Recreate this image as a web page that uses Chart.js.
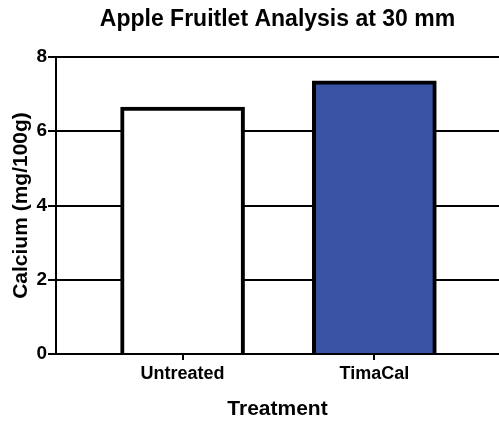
<!DOCTYPE html>
<html>
<head>
<meta charset="utf-8">
<script src="https://cdn.jsdelivr.net/npm/chart.js@4"></script>
<style>
  html, body { margin: 0; padding: 0; background: #fff; }
  #wrap { width: 499px; height: 423px; }
</style>
</head>
<body>
<div id="wrap"><canvas id="chart"></canvas></div>
<script>
const treatments = ["Untreated", "TimaCal"];
const calcium = [6.65, 7.36];
const barColors = ["#ffffff", "#3a53a4"];

Chart.defaults.font.family = "'Liberation Sans', Arial, Helvetica, sans-serif";
Chart.defaults.color = "#000";

const ctx = document.getElementById("chart");

new Chart(ctx, {
  type: "bar",
  data: {
    datasets: [
      {
        data: calcium.map((v, i) => ({ x: i + 1, y: v })),
        backgroundColor: barColors,
        borderColor: "#000",
        borderWidth: 4,
        barThickness: 124,
      },
    ],
  },
  options: {
    responsive: true,
    maintainAspectRatio: false,
    animation: false,
    layout: { padding: 0 },
    plugins: {
      legend: { display: false },
      tooltip: { enabled: false },
      title: {
        display: true,
        fullSize: false,
        text: "Apple Fruitlet Analysis at 30 mm",
        font: { size: 23, weight: "bold" },
        color: "#000",
        padding: { top: 6, bottom: 23.4 },
      },
    },
    scales: {
      x: {
        type: "linear",
        offset: false,
        min: 0.34,
        max: 2.65,
        afterFit: (scale) => { scale.height = 69; },
        afterBuildTicks: (scale) => {
          scale.ticks = treatments.map((t, i) => ({ value: i + 1 }));
        },
        ticks: {
          callback: (v) => treatments[v - 1],
          font: { size: 18, weight: "bold" },
          color: "#000",
          padding: 3,
          maxRotation: 0,
        },
        grid: {
          offset: false,
          drawOnChartArea: false,
          drawTicks: true,
          tickLength: 6,
          color: "#000",
          lineWidth: 2,
        },
        border: { display: true, color: "#000", width: 2 },
        title: {
          display: true,
          text: "Treatment",
          font: { size: 21, weight: "bold" },
          color: "#000",
          padding: { top: 0, bottom: 1 },
        },
      },
      y: {
        min: 0,
        max: 8,
        afterFit: (scale) => { scale.width = 56; },
        ticks: {
          stepSize: 2,
          font: { size: 19, weight: "bold" },
          color: "#000",
          padding: 1,
        },
        grid: {
          color: "#000",
          lineWidth: 2,
          drawTicks: true,
          tickLength: 8,
        },
        border: { display: true, color: "#000", width: 2 },
        title: {
          display: true,
          text: "Calcium (mg/100g)",
          font: { size: 21, weight: "bold" },
          color: "#000",
          padding: { top: 9, bottom: 0 },
        },
      },
    },
  },
});
</script>
</body>
</html>
